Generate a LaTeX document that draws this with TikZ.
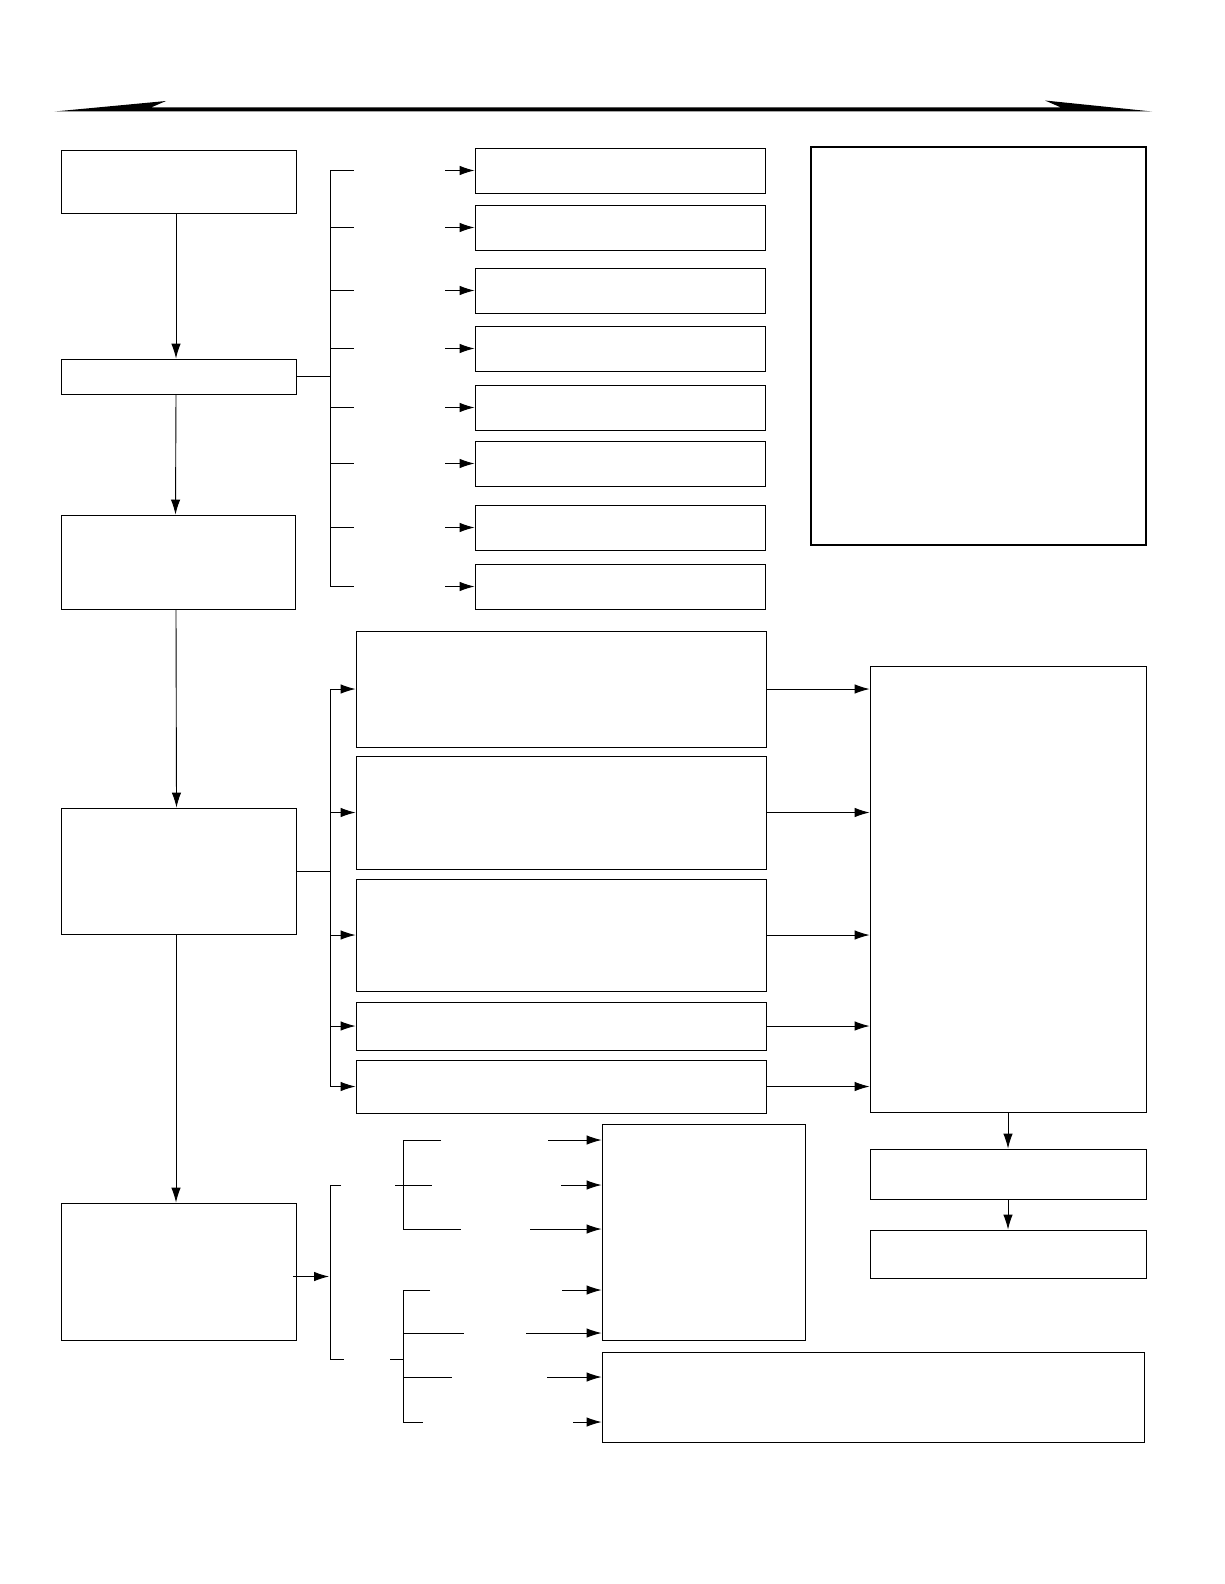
\documentclass[tikz,border=0pt]{standalone}
\usepackage{xcolor}
\usepackage{tikz}
\usetikzlibrary{arrows.meta}
\definecolor{LineColor}{HTML}{000000}
\tikzset{
	box/.style={draw=LineColor, line width=0.9pt, inner sep=0pt, fill=white},
	notebox/.style={box, line width=2.2pt},
	arr/.style={-{Latex[length=15pt,width=9.5pt]}, line width=0.9pt, draw=LineColor},
	lne/.style={line width=0.9pt, draw=LineColor},
}
% empty frame from (x1,y1) to (x2,y2), page pixels
\newcommand{\blankbox}[6][box]{%
	\node[#1, minimum width={(#5-#3)*1pt}, minimum height={(#6-#4)*1pt}] (#2) at ({(#3+#5)/2},{(#4+#6)/2}) {};
}

\begin{document}
\begin{tikzpicture}[x=1pt,y=-1pt]
	\fill[white] (0,0) rectangle (1224,1584);
	\useasboundingbox (0,0) rectangle (1224,1584);

	% double-headed timeline
	\fill[LineColor] (54.5,111.5) -- (166,101) -- (151,107.5) -- (1061,107.5) -- (1045,100.5) -- (1152,111.5) -- cycle;

	% left column
	\blankbox{start}{61}{150}{296}{213}
	\blankbox{split}{61}{359}{296}{394}
	\blankbox{prep}{61}{515}{295}{609}
	\blankbox{proc}{61}{808}{296}{934}
	\blankbox{rslt}{61}{1203}{296}{1340}

	\draw[arr] ([xshift=-2.5pt]start.south) -- ([xshift=-2.5pt]split.north);
	\draw[arr] ([xshift=-2.5pt]split.south) -- ([xshift=-2.5pt]prep.north);
	\draw[arr] ([xshift=-2pt]prep.south) -- ([xshift=-2pt]proc.north);
	\draw[arr] ([xshift=-2.5pt]proc.south) -- ([xshift=-2.5pt]rslt.north);

	% upper list
	\blankbox{r1}{475}{148}{765}{193}
	\blankbox{r2}{475}{205}{765}{250}
	\blankbox{r3}{475}{268}{765}{313}
	\blankbox{r4}{475}{326}{765}{371}
	\blankbox{r5}{475}{385}{765}{430}
	\blankbox{r6}{475}{441}{765}{486}
	\blankbox{r7}{475}{505}{765}{550}
	\blankbox{r8}{475}{564}{765}{609}

	\coordinate (tspine) at (330,0);
	\coordinate (tgap) at (445,0);
	\draw[lne] (split.east) -- (split.east -| tspine);
	\draw[lne] (r1.west -| tspine) -- (r8.west -| tspine);
	\foreach \i in {1,...,8} {
		\draw[lne] (r\i.west -| tspine) -- ++(23.5,0);
		\draw[arr] (r\i.west -| tgap) -- (r\i.west);
	}

	\blankbox[notebox]{note}{811}{147}{1146}{545}

	% middle block
	\blankbox{m1}{356}{631}{766}{747}
	\blankbox{m2}{356}{756}{766}{869}
	\blankbox{m3}{356}{879}{766}{991}
	\blankbox{m4}{356}{1002}{766}{1050}
	\blankbox{m5}{356}{1060}{766}{1113}
	\blankbox{merge}{870}{666}{1146}{1112}
	\blankbox{out1}{870}{1149}{1146}{1199}
	\blankbox{out2}{870}{1230}{1146}{1278}

	\coordinate (mspine) at (330,0);
	\draw[lne] (proc.east) -- (proc.east -| mspine);
	\draw[lne] (m1.west -| mspine) -- (m5.west -| mspine);
	\foreach \i in {1,...,5} {
		\draw[arr] (m\i.west -| mspine) -- (m\i.west);
		\draw[arr] (m\i.east) -- (m\i.east -| merge.west);
	}
	\draw[arr] (merge.south) -- (out1.north);
	\draw[arr] (out1.south) -- (out2.north);

	% lower block
	\blankbox{f1}{602}{1124}{805}{1340}
	\blankbox{f2}{602}{1352}{1144}{1442}

	\coordinate (bin) at (329,1276.5);
	\draw[arr] (293,1276.5) -- (bin);
	\draw[lne] (341,1185) -- (330,1185) -- (330,1359) -- (344,1359);

	\draw[lne] (441,1140) -- (403,1140) -- (403,1229) -- (461,1229);
	\draw[lne] (395,1185) -- (432,1185);
	\draw[lne] (430,1290) -- (403,1290) -- (403,1422) -- (423,1422);
	\draw[lne] (403,1333) -- (464,1333);
	\draw[lne] (390,1359) -- (403,1359);
	\draw[lne] (403,1377) -- (452,1377);

	\foreach \sx/\sy/\tgt in {548/1140/f1, 561/1185/f1, 530/1229/f1, 562/1290/f1, 526/1333/f1, 547/1377/f2, 573/1422/f2} {
		\coordinate (s) at (\sx,\sy);
		\draw[arr] (s) -- (s -| \tgt.west);
	}
\end{tikzpicture}
\end{document}
